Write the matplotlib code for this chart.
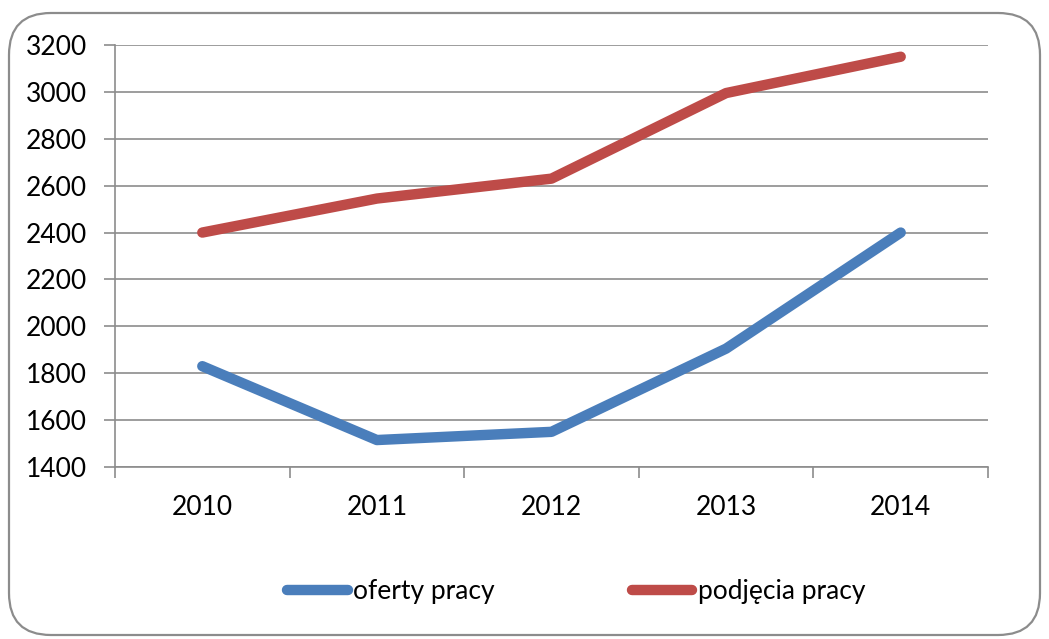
import matplotlib.pyplot as plt
from matplotlib.patches import FancyBboxPatch

plt.rcParams['font.family'] = ['Lato', 'DejaVu Sans']

# data
years = ['2010', '2011', '2012', '2013', '2014']
oferty = [1830, 1515, 1550, 1905, 2400]
podjecia = [2400, 2545, 2630, 2995, 3150]
yticks = list(range(1400, 3201, 200))

W, H = 1049, 639
fig = plt.figure(figsize=(W / 100, H / 100), dpi=100)

# rounded outer frame
frame = FancyBboxPatch((9 / W, 4 / H), 1031 / W, 622 / H,
                       boxstyle='round,pad=0,rounding_size=0.04',
                       transform=fig.transFigure, facecolor='white',
                       edgecolor='#8c8c8c', linewidth=1.6, mutation_aspect=W / H,
                       zorder=-1)
fig.patches.append(frame)

ax = fig.add_axes([115 / W, 1 - 467 / H, 873 / W, 422 / H])
ax.set_facecolor('none')

x = list(range(len(years)))
ax.plot(x, oferty, color='#4a7ebb', lw=7.5, solid_capstyle='round',
        solid_joinstyle='round', label='oferty pracy')
ax.plot(x, podjecia, color='#be4b48', lw=7.5, solid_capstyle='round',
        solid_joinstyle='round', label='podjęcia pracy')

ax.set_xlim(-0.5, len(years) - 0.5)
ax.set_ylim(1400, 3200)
ax.set_yticks(yticks)
ax.set_yticklabels([str(v) for v in yticks])
ax.yaxis.grid(True, color='#8c8c8c', lw=1.2)
ax.set_axisbelow(True)

ax.set_xticks(x)
ax.set_xticklabels(years)
ax.set_xticks([i - 0.5 for i in range(len(years) + 1)], minor=True)
ax.tick_params(axis='x', which='major', length=0, pad=20, labelsize=19)
ax.tick_params(axis='x', which='minor', length=8, color='#8c8c8c', width=1.2)
ax.tick_params(axis='y', length=8, color='#8c8c8c', width=1.2, pad=12, labelsize=19)

for s in ['top', 'right']:
    ax.spines[s].set_visible(False)
for s in ['left', 'bottom']:
    ax.spines[s].set_color('#8c8c8c')
    ax.spines[s].set_linewidth(1.2)

fig.legend(loc='center', bbox_to_anchor=(576 / W, 1 - 592 / H), ncol=2,
           frameon=False, fontsize=19, handlelength=2.3, handletextpad=0.2,
           columnspacing=5.2)

fig.savefig('out.png', dpi=100)
